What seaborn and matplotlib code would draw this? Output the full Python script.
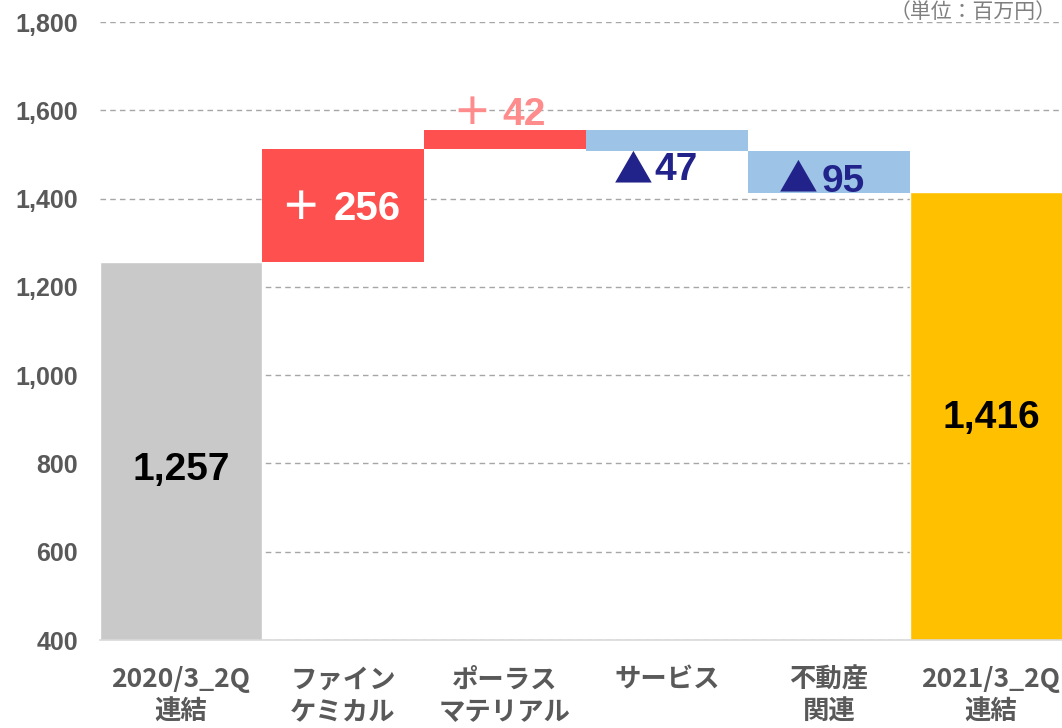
import matplotlib

matplotlib.use("Agg")
import matplotlib.pyplot as plt
import pandas as pd
import seaborn as sns

# ---- data ---------------------------------------------------------------
categories = ["2020/3_2Q\n連結", "ファイン\nケミカル", "ポーラス\nマテリアル",
              "サービス", "不動産\n関連", "2021/3_2Q\n連結"]
start_total = 1257
deltas = [256, 42, -47, -95]
end_total = 1416
delta_signs = ["＋", "＋", "▲", "▲"]
yticks = [400, 600, 800, 1000, 1200, 1400, 1600, 1800]

GREY_BAR = "#C9C9C9"
UP = "#FF5050"
DOWN = "#9DC3E6"
GOLD = "#FFC000"
TICK = "#595959"
NAVY = "#22238A"
PINK = "#FF8C8C"

sns.set_theme(style="white")
plt.rcParams["font.family"] = ["Liberation Sans", "Noto Sans CJK JP", "DejaVu Sans"]

fig = plt.figure(figsize=(10.62, 7.28), dpi=100)
ax = fig.add_axes([100 / 1062, 88 / 728, 972 / 1062, 618 / 728])

# totals through seaborn
tot = pd.DataFrame({"cat": [categories[0], categories[-1]],
                    "val": [start_total, end_total]})
sns.barplot(data=tot, x="cat", y="val", hue="cat", order=categories,
            palette=[GREY_BAR, GOLD], width=1.0, legend=False, ax=ax,
            saturation=1, zorder=2)

# floating deltas
level = start_total
bars = []
for i, d in enumerate(deltas, start=1):
    lo, hi = (level, level + d) if d > 0 else (level + d, level)
    ax.bar(i, hi - lo, bottom=lo, width=1.0, color=UP if d > 0 else DOWN,
           zorder=2, linewidth=0)
    bars.append((lo, hi))
    level += d

ax.set_ylim(400, 1800)
ax.set_xlim(-0.5, 5.5)
ax.set_yticks(yticks)
ax.set_yticklabels([f"{v:,}" for v in yticks], fontsize=18, fontweight="bold",
                   color=TICK, family="Liberation Sans")
ax.set_xticks(range(len(categories)))
ax.set_xticklabels(categories, fontsize=19, color=TICK, fontweight="bold",
                   family=["Noto Sans CJK JP"], linespacing=1.25)
ax.tick_params(axis="x", length=0, pad=19)
ax.tick_params(axis="y", length=0, pad=16)
ax.set_xlabel("")
ax.set_ylabel("")
ax.yaxis.grid(True, ls=(0, (4, 3)), color="#A6A6A6", lw=1, zorder=0)
ax.set_axisbelow(True)
for s in ["top", "right", "left"]:
    ax.spines[s].set_visible(False)
ax.spines["bottom"].set_color("#D9D9D9")
ax.spines["bottom"].set_linewidth(1.2)

# total labels
ax.text(0, 785, f"{start_total:,}", ha="center", va="center", fontsize=28,
        fontweight="bold", color="black")
ax.text(5, (end_total + 400) / 2 - 6, f"{end_total:,}", ha="center", va="center",
        fontsize=28, fontweight="bold", color="black")


def delta_label(x, y, sign, num, color, va, sign_end, num_start, size=28):
    # sign drawn in the CJK face, digits in the Arial-like face
    ax.annotate(sign, xy=(x, y), xytext=(sign_end, 0), textcoords="offset points",
                ha="right", va=va, fontsize=size, fontweight="bold", color=color,
                family=["Noto Sans CJK JP"])
    ax.annotate(num, xy=(x, y), xytext=(num_start, 0), textcoords="offset points",
                ha="left", va=va, fontsize=size, fontweight="bold", color=color,
                family=["Liberation Sans"])


lo, hi = bars[0]
delta_label(1.0, (lo + hi) / 2 - 8, delta_signs[0], f"{abs(deltas[0])}", "white",
            "center", -16, -7, size=29)
delta_label(2.0, bars[1][1] + 12, delta_signs[1], f"{abs(deltas[1])}", PINK,
            "baseline", -10, -2)
delta_label(3.0, bars[2][0] - 2, delta_signs[2], f"{abs(deltas[2])}", NAVY,
            "top", -10, -9)
delta_label(4.0, bars[3][0] + 2, delta_signs[3], f"{abs(deltas[3])}", NAVY,
            "baseline", -8, -5)

fig.text(0.995, 0.999, "（単位：百万円）", ha="right", va="top", fontsize=15,
         color="#7F7F7F", family=["Noto Sans CJK JP"])

fig.savefig("out.png", dpi=100)
